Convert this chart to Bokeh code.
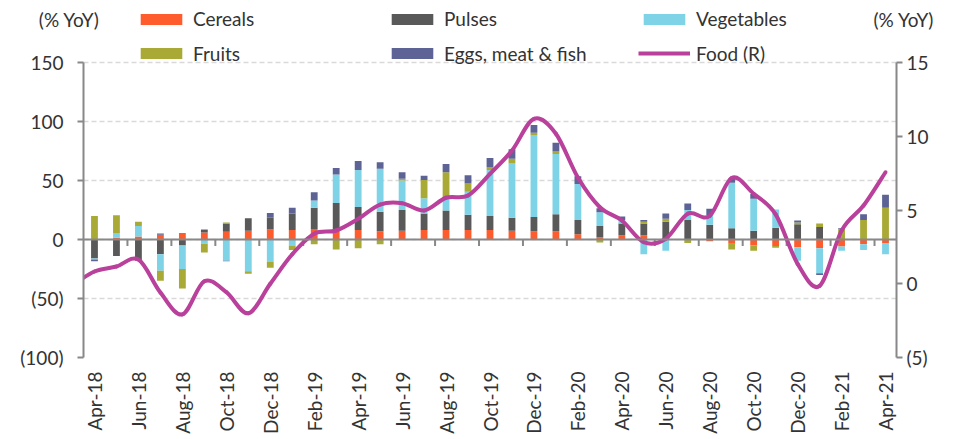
import math
import numpy as np
from bokeh.plotting import figure
from bokeh.layouts import column
from bokeh.models import (Range1d, LinearAxis, FixedTicker, Span, Legend, LegendItem,
                          ColumnDataSource)
from bokeh.embed import file_html
from bokeh.resources import INLINE

months = ["Apr-18", "May-18", "Jun-18", "Jul-18", "Aug-18", "Sep-18", "Oct-18", "Nov-18",
          "Dec-18", "Jan-19", "Feb-19", "Mar-19", "Apr-19", "May-19", "Jun-19", "Jul-19",
          "Aug-19", "Sep-19", "Oct-19", "Nov-19", "Dec-19", "Jan-20", "Feb-20", "Mar-20",
          "Apr-20", "May-20", "Jun-20", "Jul-20", "Aug-20", "Sep-20", "Oct-20", "Nov-20",
          "Dec-20", "Jan-21", "Feb-21", "Mar-21", "Apr-21"]

cereals = [0, 1.5, 2.5, 4, 5.5, 6, 6.5, 7.5, 8.5, 8, 9, 7.5, 8, 7, 7.5, 8, 8, 8, 8, 7.5,
           7, 7, 4.5, 2, 3.5, 3.5, 0.5, 0, -1.5, -3, -5, -5.5, -6.5, -7.5, -6, -4, -3]
pulses = [-16, -14, -18, -12.5, -5, 2, 7, 10.5, 10, 14, 18, 23.5, 19.5, 16.5, 17.5, 14, 16.5,
          13, 12, 11, 12, 14.5, 12, 9.5, 10, 10, 14.5, 16.5, 12.5, 9.5, 7.5, 10, 13, 10.5, 0, 0, 0]
vegetables = [-1, 4, 9, -14, -20, -3.5, -18, -27, -19, -5, 6, 24, 31.5, 36.5, 25, 13, 10.5,
              19.5, 39, 46, 69.5, 51, 30.5, 11.5, 3, -12.5, -9.5, 8.5, 8, 38.5, 27, 15.5,
              -11.5, -21, -3.5, -5, -9.5]
fruits = [20, 15, 3.5, -8.5, -16.5, -7.5, 1, -2, -5, -4, -4, -8.5, -7.5, -4, 1.5, 15.5, 22,
          7, 2.5, 4, 2, 2, 0, -2.5, 0, 1.5, 2.5, -3, 0, -5.5, -4.5, -1.5, 1.5, 3, 9, 16.5, 27]
eggs = [-1.5, 0, 0, 1, 0, 0.5, -0.5, 0, 4, 5, 7, 5.5, 7.5, 5.5, 5.5, 3.5, 7, 7, 7.5, 8, 6.5,
        7.5, 6.5, 3.5, 3, 1.5, 4.5, 5.5, 5.5, 3.5, 4, 0, 1.5, -1.5, 0.5, 5, 11]

# Food (R): line starts one month earlier (Mar-18), partly cut by the plot edge
food_months = ["Mar-18"] + months
food = [-0.1, 0.83, 1.17, 1.64, -0.6, -2.08, 0.17, -0.57, -2.0, 0.0, 2.0, 3.39, 3.61,
        4.4, 5.37, 5.46, 4.97, 5.83, 5.98, 7.45, 9.03, 11.18, 10.17, 7.2, 5.19,
        4.29, 2.82, 3.05, 4.75, 4.6, 7.17, 6.1, 4.7, 1.35, -0.15, 3.6, 5.3, 7.56]

left_ticks = [-100, -50, 0, 50, 100, 150]
right_ticks = [-5, 0, 5, 10, 15]
unit_title = "(% YoY)"

series_names = ["Cereals", "Pulses", "Vegetables", "Fruits", "Eggs, meat & fish"]
series_values = [cereals, pulses, vegetables, fruits, eggs]
series_colors = ["#FF5C2E", "#595959", "#7ED3E7", "#A8AA35", "#5D6495"]
FOOD_C = "#B9409B"

FONT = "Lato"
FS = "19px"
TXT = "#333333"
AX = "#888888"
W, H = 959, 439
HEAD_H = 40            # strip holding the unit titles and first legend row
BL, BR = 83, 63        # left / right borders (axes)
BB = 82                # bottom border (month labels)
TOP_PX = 62 - HEAD_H   # space inside the chart frame above the 150 / 15 gridline
PX_L = 295 / (left_ticks[-1] - left_ticks[0])
PX_R = 295 / (right_ticks[-1] - right_ticks[0])

# ---------- data sources (shared by chart and legend) ----------
x = np.arange(len(months), dtype=float)
pos_acc = np.zeros(len(months))
neg_acc = np.zeros(len(months))
bar_sources = []
for vals in series_values:
    v = np.array(vals, dtype=float)
    bottom = np.where(v >= 0, pos_acc, neg_acc + v)
    top = np.where(v >= 0, pos_acc + v, neg_acc)
    pos_acc = pos_acc + np.clip(v, 0, None)
    neg_acc = neg_acc + np.clip(v, None, 0)
    bar_sources.append(ColumnDataSource(dict(x=x, bottom=bottom, top=top)))

fx = np.arange(-1, len(months), dtype=float)
fy = np.array(food, dtype=float)
food_src = ColumnDataSource(dict(x=fx, y=fy))

def make_legend(renderer, label, vx, vy):
    lg = Legend(items=[LegendItem(label=label, renderers=[renderer])], location=(vx, vy))
    lg.glyph_width = 52
    lg.glyph_height = 14
    lg.label_standoff = 6
    lg.padding = 0
    lg.margin = 0
    lg.border_line_color = None
    lg.background_fill_alpha = 0
    lg.label_text_font = FONT
    lg.label_text_font_size = FS
    lg.label_text_color = TXT
    lg.label_height = 21
    return lg

col_x = [135 - BL, 386 - BL, 638 - BL]

# ---------------- header strip (unit titles + legend row 1) ----------------
head = figure(width=W, height=HEAD_H, x_range=Range1d(-0.5, 36.5), y_range=Range1d(0, HEAD_H),
              x_axis_type=None, output_backend="svg", toolbar_location=None,
              min_border_left=BL, min_border_right=BR, min_border_top=0, min_border_bottom=0)
head.outline_line_color = None
head.xgrid.visible = False
head.ygrid.visible = False
head.extra_y_ranges = {"keys": Range1d(1000, 1001)}

TITLE_Y = HEAD_H - 19

def title_axis(ax, standoff):
    ax.ticker = FixedTicker(ticks=[TITLE_Y])
    ax.major_label_overrides = {TITLE_Y: unit_title}
    ax.axis_line_color = None
    ax.major_tick_line_color = None
    ax.minor_tick_line_color = None
    ax.major_tick_out = 0
    ax.major_tick_in = 0
    ax.major_label_standoff = standoff
    ax.major_label_text_font = FONT
    ax.major_label_text_font_size = FS
    ax.major_label_text_color = TXT

title_axis(head.yaxis[0], -16)
rt = LinearAxis()
title_axis(rt, -23)
head.add_layout(rt, "right")

# legend keys of row 1: same data as the chart, outside this strip's visible range
for i, (name, src, color) in enumerate(zip(series_names[:3], bar_sources[:3], series_colors[:3])):
    key = head.vbar(x="x", width=0.31, bottom="bottom", top="top", source=src,
                    fill_color=color, line_color=None, y_range_name="keys")
    head.add_layout(make_legend(key, name, col_x[i], HEAD_H - 30), "center")

# ---------------- main chart ----------------
p = figure(width=W, height=H - HEAD_H,
           x_range=Range1d(-0.5, 36.5),
           y_range=Range1d(left_ticks[0], left_ticks[-1] + TOP_PX / PX_L),
           output_backend="svg", toolbar_location=None,
           min_border_left=BL, min_border_right=BR, min_border_top=0, min_border_bottom=BB)
p.outline_line_color = None
p.extra_y_ranges = {"food": Range1d(right_ticks[0], right_ticks[-1] + TOP_PX / PX_R),
                    "keys": Range1d(1000, 1001)}

p.xgrid.visible = False
p.ygrid.ticker = FixedTicker(ticks=left_ticks)
p.ygrid.grid_line_color = "#D9D9D9"
p.ygrid.grid_line_dash = "5 3"
p.ygrid.grid_line_width = 1.5

def style_axis(ax, standoff):
    ax.axis_line_color = AX
    ax.axis_line_width = 2
    ax.major_tick_line_color = AX
    ax.major_tick_line_width = 2
    ax.major_tick_out = 6
    ax.major_tick_in = 0
    ax.minor_tick_line_color = None
    ax.major_label_standoff = standoff
    ax.major_label_text_font = FONT
    ax.major_label_text_font_size = FS
    ax.major_label_text_color = TXT

ya = p.yaxis[0]
ya.ticker = FixedTicker(ticks=left_ticks)
ya.bounds = (left_ticks[0], left_ticks[-1])
ya.major_label_overrides = {t: (f"({abs(t)})" if t < 0 else str(t)) for t in left_ticks}
style_axis(ya, 14)

ra = LinearAxis(y_range_name="food", ticker=FixedTicker(ticks=right_ticks),
                bounds=(right_ticks[0], right_ticks[-1]))
ra.major_label_overrides = {t: (f"({abs(t)})" if t < 0 else str(t)) for t in right_ticks}
style_axis(ra, 4)
p.add_layout(ra, "right")

xa = p.xaxis[0]
xt = list(range(0, len(months), 2))
xa.ticker = FixedTicker(ticks=xt)
xa.major_label_overrides = {i: months[i] for i in xt}
xa.axis_line_color = None
xa.major_tick_line_color = None
xa.minor_tick_line_color = None
xa.major_label_orientation = math.pi / 2
xa.major_label_standoff = 8
xa.major_label_text_font = FONT
xa.major_label_text_font_size = FS
xa.major_label_text_color = TXT

bars = {}
for name, src, color in zip(series_names, bar_sources, series_colors):
    bars[name] = p.vbar(x="x", width=0.31, bottom="bottom", top="top", source=src,
                        fill_color=color, line_color=None)

# zero line and category ticks
p.add_layout(Span(location=0, dimension="width", line_color=AX, line_width=2))
bounds = np.arange(1.5, len(months) - 1, 2)
p.segment(x0=bounds, y0=np.zeros(len(bounds)), x1=bounds, y1=np.full(len(bounds), -5.5),
          line_color=AX, line_width=2)

# smooth food line (Catmull-Rom -> cubic bezier)
n = len(fx)
xs = np.concatenate([[fx[0]], fx, [fx[-1]]])
ys = np.concatenate([[fy[0]], fy, [fy[-1]]])
x0 = xs[1:n]; y0 = ys[1:n]
x1 = xs[2:n + 1]; y1 = ys[2:n + 1]
cx0 = x0 + (xs[2:n + 1] - xs[0:n - 1]) / 6
cy0 = y0 + (ys[2:n + 1] - ys[0:n - 1]) / 6
cx1 = x1 - (xs[3:n + 2] - xs[1:n]) / 6
cy1 = y1 - (ys[3:n + 2] - ys[1:n]) / 6
p.bezier(x0=x0, y0=y0, x1=x1, y1=y1, cx0=cx0, cy0=cy0, cx1=cx1, cy1=cy1,
         line_color=FOOD_C, line_width=4, line_cap="round", y_range_name="food")
food_key = p.line(x="x", y="y", source=food_src, line_color=FOOD_C, line_width=4,
                  y_range_name="keys")

# legend row 2 (inside the chart frame, above the 150 gridline)
frame_h = H - HEAD_H - BB
row2_vy = frame_h - (54 + 10.5 - HEAD_H)
p.add_layout(make_legend(bars["Fruits"], "Fruits", col_x[0], row2_vy), "center")
p.add_layout(make_legend(bars["Eggs, meat & fish"], "Eggs, meat & fish", col_x[1], row2_vy), "center")
p.add_layout(make_legend(food_key, "Food (R)", col_x[2], row2_vy), "center")

layout = column(head, p, spacing=0)
open("out.html", "w").write(file_html(layout, INLINE))
